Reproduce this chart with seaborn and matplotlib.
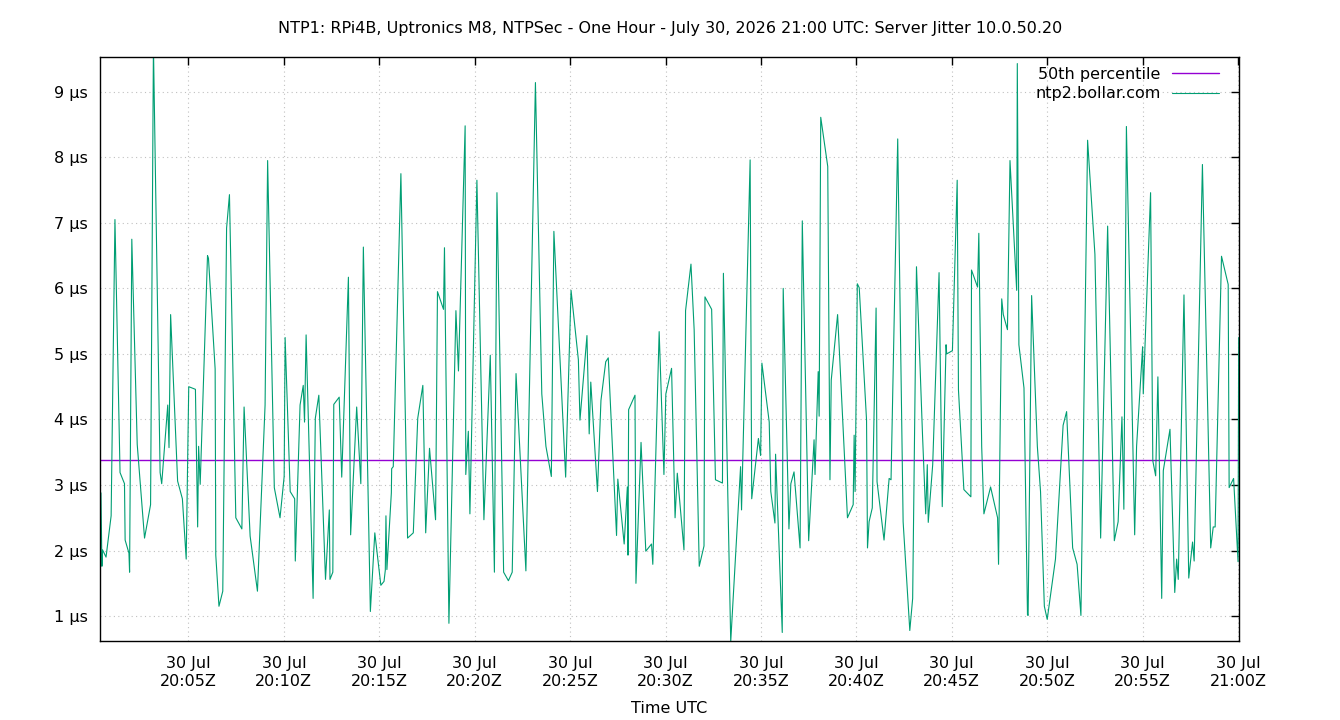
import matplotlib
matplotlib.use('Agg')
import matplotlib.pyplot as plt
import matplotlib.dates as mdates
import seaborn as sns
import pandas as pd

# seconds after 20:00 UTC, and server jitter in microseconds
seconds = [25, 28, 30, 41, 57, 69, 85, 99, 101, 113, 115, 122, 139, 162, 181, 190, 211, 216, 235, 239,
           244, 266, 281, 293, 301, 322, 329, 332, 337, 360, 363,
           384, 386, 396, 408, 420, 429, 449, 468, 475, 494, 517, 541, 549, 570, 588, 601, 604, 620, 634,
           636, 651, 661, 665, 670, 692, 699, 710, 731, 743,
           745, 754, 757, 774, 782, 803, 810, 829, 842, 850, 872, 886, 905, 915, 919, 921, 924, 934, 938,
           939, 944, 968, 989, 1007, 1021, 1037, 1046, 1058, 1077, 1083, 1102,
           1105, 1119, 1141, 1149, 1170, 1172, 1180, 1185, 1207, 1229, 1249, 1262, 1270, 1291, 1306, 1318,
           1330, 1361, 1391, 1411, 1424, 1441, 1449,
           1486, 1503, 1526, 1531, 1553, 1560, 1565, 1586, 1597, 1612, 1620, 1646, 1650, 1670, 1680, 1682,
           1684, 1704, 1707, 1723, 1738, 1756, 1760, 1780, 1795, 1801, 1819,
           1830, 1837, 1858, 1863, 1880, 1890, 1906, 1921, 1924, 1945, 1957, 1979, 1982, 2005, 2036, 2039,
           2066, 2071, 2092, 2099, 2103, 2126, 2131, 2144, 2146, 2167, 2170,
           2188, 2194, 2204, 2223, 2230, 2250, 2267, 2270, 2280, 2283, 2288, 2310, 2317, 2321, 2341, 2372,
           2390, 2393, 2396, 2403, 2409, 2432, 2435, 2440, 2450, 2462, 2465, 2487, 2503, 2509, 2530,
           2547, 2568, 2577, 2589, 2608, 2618, 2623, 2626, 2640, 2660, 2670, 2682, 2684, 2702, 2717, 2721,
           2738, 2760, 2762, 2781, 2785, 2794, 2801, 2822, 2844, 2847, 2857, 2862, 2875, 2883, 2904, 2906,
           2911, 2927, 2938, 2940, 2951, 2969, 2979, 2991, 3000, 3026, 3050, 3061, 3080, 3094, 3106, 3127,
           3150, 3168, 3190, 3211, 3223, 3235, 3241, 3249, 3275,
           3281, 3300, 3302, 3325, 3332, 3341, 3348, 3360, 3365, 3386, 3401, 3407, 3412, 3430, 3445, 3457,
           3462, 3488, 3514, 3522, 3528, 3548, 3569, 3572, 3586, 3600, 3602]

jitter_us = [2.88, 1.76, 2.01, 1.90, 2.53, 7.05, 3.19, 3.02, 2.16, 1.96, 1.67, 6.75, 3.62, 2.19, 2.70, 9.70,
             3.19, 3.02, 4.22, 3.57, 5.60, 3.06, 2.79, 1.87, 4.50, 4.46, 2.36, 3.59, 3.01, 6.50, 6.46,
             4.77, 1.93, 1.15, 1.38, 6.92, 7.43, 2.50, 2.33, 4.19, 2.22, 1.38, 4.22, 7.95, 2.96, 2.50, 3.13,
             5.25, 2.90, 2.79, 1.84, 4.22, 4.52, 3.96, 5.29, 1.27, 4.02, 4.37, 1.56, 2.62,
             1.56, 1.67, 4.23, 4.34, 3.12, 6.17, 2.24, 4.19, 3.02, 6.63, 1.07, 2.27, 1.47, 1.53, 1.70, 2.53,
             1.71, 2.53, 2.88, 3.25, 3.28, 7.75, 2.19, 2.27, 4.02, 4.52, 2.27, 3.56, 2.47, 5.95, 5.68,
             6.62, 0.89, 5.66, 4.74, 8.48, 3.16, 3.82, 2.56, 7.65, 2.47, 4.98, 1.67, 7.46, 1.67, 1.54, 1.67,
             4.70, 1.69, 9.14, 4.39, 3.59, 3.13, 6.87,
             3.12, 5.97, 4.91, 3.99, 5.28, 3.78, 4.57, 2.90, 4.29, 4.88, 4.94, 2.23, 3.09, 2.10, 2.97, 1.93,
             4.15, 4.37, 1.50, 3.65, 1.99, 2.10, 1.79, 5.34, 3.16, 4.39, 4.78,
             2.50, 3.18, 2.01, 5.66, 6.37, 5.37, 1.76, 2.07, 5.87, 5.68, 3.08, 3.03, 6.23, 0.61, 3.28, 2.62,
             7.96, 2.79, 3.71, 3.45, 4.86, 3.96, 2.90, 2.42, 3.47, 0.75, 6.00,
             2.33, 3.02, 3.20, 2.04, 7.03, 2.15, 3.69, 3.16, 4.73, 4.05, 8.61, 7.86, 3.08, 4.60, 5.60, 2.50,
             2.70, 3.76, 2.90, 6.07, 6.01, 3.99, 2.04, 2.44, 2.65, 5.70, 3.05, 2.16, 3.10, 3.08, 8.28,
             2.44, 0.78, 1.27, 6.33, 3.76, 2.56, 3.31, 2.43, 3.31, 6.24, 2.67, 5.14, 5.00, 5.05, 7.65, 4.45,
             2.93, 2.82, 6.28, 6.02, 6.84, 3.59, 2.56, 2.97, 2.50, 1.79, 5.84, 5.60, 5.37, 7.95, 5.97, 9.43,
             5.14, 4.48, 1.02, 1.01, 5.89, 3.59, 2.90, 1.15, 0.95, 1.87, 3.91, 4.12, 2.04, 1.79, 1.01, 8.26,
             6.52, 2.19, 6.95, 2.15, 2.44, 4.04, 2.63, 8.47, 2.24,
             3.59, 5.11, 4.39, 7.46, 3.37, 3.14, 4.65, 1.27, 3.22, 3.85, 1.36, 1.87, 1.56, 5.90, 1.58, 2.13,
             1.84, 7.89, 2.04, 2.36, 2.36, 6.49, 6.06, 2.96, 3.10, 1.83, 5.25]

median_us = 3.38
server = 'ntp2.bollar.com'
yticks = [1, 2, 3, 4, 5, 6, 7, 8, 9]

start = pd.Timestamp('2026-07-30 20:00:00')
df = pd.DataFrame({'time': start + pd.to_timedelta(seconds, unit='s'), 'jitter': jitter_us})

sns.set_theme(style='white')
plt.rcParams['font.family'] = ['DejaVu Sans']
plt.rcParams['text.color'] = 'black'
plt.rcParams['axes.labelcolor'] = 'black'
fs = 11.5

fig = plt.figure(figsize=(13.4, 7.2), dpi=100)
ax = fig.add_axes([100 / 1340, 1 - 641 / 720, 1139 / 1340, 584 / 720])

ax.axhline(median_us, color='#9400d3', lw=1.0, label='50th percentile')
sns.lineplot(data=df, x='time', y='jitter', ax=ax, color='#009e73', lw=0.8, label=server)

ax.set_xlim(start + pd.Timedelta(seconds=22), start + pd.Timedelta(seconds=3603))
ax.set_ylim(0.62, 9.53)
ax.set_yticks(yticks)
ax.set_yticklabels([f'{v} µs' for v in yticks])
ax.xaxis.set_major_locator(mdates.MinuteLocator(byminute=range(0, 60, 5)))
ax.xaxis.set_major_formatter(mdates.DateFormatter('%d %b\n%H:%MZ'))

ax.grid(True, color='#c0c0c0', linestyle=(0, (1, 3)), lw=0.8)
for s in ax.spines.values():
    s.set_color('black')
    s.set_linewidth(1.0)
ax.tick_params(direction='in', length=6, width=1, top=True, right=True, labelsize=fs, colors='black', pad=9)
ax.tick_params(axis='x', pad=11)

ax.set_xlabel('Time UTC', fontsize=fs, labelpad=9)
ax.set_ylabel('')
fig.suptitle('NTP1: RPi4B, Uptronics M8, NTPSec - One Hour - July 30, 2026 21:00 UTC: Server Jitter 10.0.50.20',
             fontsize=fs, y=1 - 28 / 720, va='center')

leg = ax.legend(loc='upper right', frameon=False, markerfirst=False, fontsize=fs, handlelength=2.95,
                handletextpad=0.7, borderaxespad=0.6, labelspacing=0.27,
                bbox_to_anchor=(1 - 4 / 1139, 1 + 6 / 584))
for t in leg.get_texts():
    t.set_color('black')

fig.savefig('out.png', dpi=100)
